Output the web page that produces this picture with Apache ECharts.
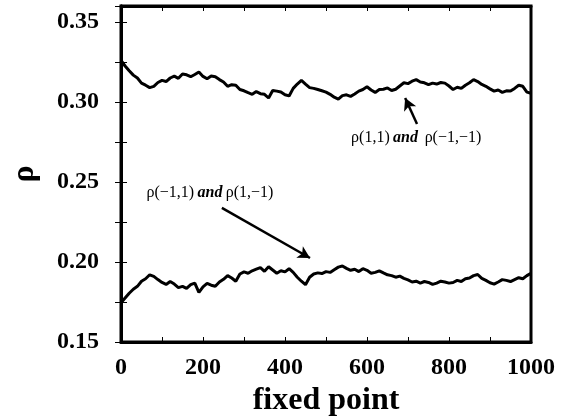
<!DOCTYPE html>
<html>
<head>
<meta charset="utf-8">
<script src="https://cdn.jsdelivr.net/npm/echarts@6/dist/echarts.min.js"></script>
<style>
  html, body { margin: 0; padding: 0; background: #fff; }
  #chart { width: 562px; height: 418px; }
</style>
</head>
<body>
<div id="chart"></div>
<script>
// fixed-point index, sampled every 10
const fixedPoints = [];
for (let i = 0; i <= 100; i++) fixedPoints.push(i * 10);

// rho(1,1) and rho(-1,-1)
const rhoSame = [
  0.3260, 0.3225, 0.3195, 0.3168, 0.3150, 0.3118, 0.3105, 0.3090, 0.3098, 0.3122,
  0.3135, 0.3128, 0.3150, 0.3162, 0.3148, 0.3175, 0.3170, 0.3158, 0.3172, 0.3188,
  0.3160, 0.3145, 0.3162, 0.3158, 0.3140, 0.3125, 0.3098, 0.3108, 0.3105, 0.3078,
  0.3070, 0.3058, 0.3048, 0.3065, 0.3052, 0.3048, 0.3025, 0.3072, 0.3068, 0.3062,
  0.3045, 0.3038, 0.3085, 0.3112, 0.3135, 0.3112, 0.3090, 0.3085, 0.3078, 0.3070,
  0.3062, 0.3048, 0.3030, 0.3018, 0.3040, 0.3045, 0.3035, 0.3050, 0.3068, 0.3078,
  0.3095, 0.3075, 0.3060, 0.3078, 0.3080, 0.3088, 0.3072, 0.3080, 0.3100, 0.3120,
  0.3115, 0.3130, 0.3140, 0.3125, 0.3120, 0.3108, 0.3118, 0.3112, 0.3122, 0.3118,
  0.3100, 0.3078, 0.3092, 0.3085, 0.3105, 0.3120, 0.3140, 0.3128, 0.3110, 0.3098,
  0.3082, 0.3068, 0.3075, 0.3060, 0.3070, 0.3068, 0.3085, 0.3105, 0.3098, 0.3062,
  0.3055
];

// rho(-1,1) and rho(1,-1)
const rhoMixed = [
  0.1745, 0.1775, 0.1805, 0.1830, 0.1848, 0.1880, 0.1895, 0.1920, 0.1910, 0.1890,
  0.1872, 0.1860, 0.1878, 0.1862, 0.1840, 0.1848, 0.1835, 0.1858, 0.1868, 0.1810,
  0.1845, 0.1866, 0.1855, 0.1848, 0.1875, 0.1892, 0.1915, 0.1900, 0.1880, 0.1925,
  0.1938, 0.1930, 0.1945, 0.1955, 0.1965, 0.1942, 0.1970, 0.1950, 0.1930, 0.1945,
  0.1938, 0.1958, 0.1935, 0.1905, 0.1880, 0.1858, 0.1905, 0.1925, 0.1932, 0.1928,
  0.1940, 0.1935, 0.1952, 0.1968, 0.1975, 0.1960, 0.1948, 0.1955, 0.1940, 0.1958,
  0.1948, 0.1930, 0.1935, 0.1945, 0.1932, 0.1920, 0.1915, 0.1905, 0.1912, 0.1898,
  0.1888, 0.1875, 0.1880, 0.1868, 0.1878, 0.1872, 0.1860, 0.1868, 0.1880, 0.1875,
  0.1868, 0.1872, 0.1885, 0.1878, 0.1895, 0.1900, 0.1915, 0.1922, 0.1898, 0.1885,
  0.1870, 0.1862, 0.1875, 0.1890, 0.1885, 0.1878, 0.1890, 0.1902, 0.1895, 0.1915,
  0.1930
];

const xTicks = [0, 200, 400, 600, 800, 1000];
const yTicks = [0.15, 0.20, 0.25, 0.30, 0.35];

const SERIF = '"Liberation Serif", "Times New Roman", serif';

const chart = echarts.init(document.getElementById('chart'), null, { renderer: 'canvas' });

function pairs(ys) {
  return fixedPoints.map((x, i) => [x, ys[i]]);
}

const tickLabelStyle = {
  fontFamily: SERIF, fontWeight: 'bold', fontSize: 24, color: '#000'
};

const annotRich = {
  r: { fontFamily: SERIF, fontSize: 16, color: '#000' },
  a: { fontFamily: SERIF, fontSize: 16, fontWeight: 'bold', fontStyle: 'italic', color: '#000' }
};

// invisible anchor used to place the annotation texts in data coordinates
const noMarker = { symbol: 'circle', symbolSize: 1, itemStyle: { color: 'rgba(0,0,0,0)' } };

const option = {
  animation: false,
  backgroundColor: '#fff',
  grid: {
    left: 121, right: 31, top: 6, bottom: 76,
    outerBoundsMode: 'none', containLabel: false,
    show: true, borderColor: '#000', borderWidth: 3, backgroundColor: 'transparent'
  },
  xAxis: [{
    type: 'value', min: 0, max: 1000, interval: 200,
    name: 'fixed point', nameLocation: 'middle', nameGap: 42,
    nameTextStyle: { fontFamily: SERIF, fontWeight: 'bold', fontSize: 32, color: '#000' },
    axisLine: { show: true, lineStyle: { color: '#000', width: 3 } },
    axisTick: { inside: true, length: 5, lineStyle: { color: '#000', width: 1 } },
    minorTick: { show: true, splitNumber: 2, length: 5, lineStyle: { color: '#000', width: 1 } },
    splitLine: { show: false },
    axisLabel: Object.assign({ margin: 14, formatter: v => xTicks.includes(v) ? String(v) : '' }, tickLabelStyle)
  }, {
    type: 'value', min: 0, max: 1000, interval: 200, position: 'top',
    axisLine: { show: true, lineStyle: { color: '#000', width: 3 } },
    axisTick: { inside: true, length: 5, lineStyle: { color: '#000', width: 1 } },
    minorTick: { show: true, splitNumber: 2, length: 5, lineStyle: { color: '#000', width: 1 } },
    splitLine: { show: false },
    axisLabel: { show: false }
  }],
  yAxis: [{
    type: 'value', min: 0.15, max: 0.36, interval: 0.05,
    name: 'ρ', nameLocation: 'middle', nameGap: 80, nameRotate: 90,
    nameTextStyle: { fontFamily: SERIF, fontWeight: 'bold', fontSize: 32, color: '#000' },
    axisLine: { show: true, lineStyle: { color: '#000', width: 3 } },
    axisTick: { inside: true, length: 6, lineStyle: { color: '#000', width: 1 } },
    minorTick: { show: true, splitNumber: 2, length: 6, lineStyle: { color: '#000', width: 1 } },
    splitLine: { show: false },
    axisLabel: Object.assign({
      margin: 22,
      formatter: v => yTicks.some(t => Math.abs(t - v) < 1e-9) ? v.toFixed(2) : ''
    }, tickLabelStyle)
  }, {
    type: 'value', min: 0.15, max: 0.36, interval: 0.05, position: 'right',
    axisLine: { show: true, lineStyle: { color: '#000', width: 3 } },
    axisTick: { inside: true, length: 6, lineStyle: { color: '#000', width: 1 } },
    minorTick: { show: true, splitNumber: 2, length: 6, lineStyle: { color: '#000', width: 1 } },
    splitLine: { show: false },
    axisLabel: { show: false }
  }],
  series: [{
    name: 'ρ(1,1) and ρ(−1,−1)',
    type: 'line',
    xAxisIndex: 0, yAxisIndex: 0,
    data: pairs(rhoSame),
    showSymbol: false,
    lineStyle: { color: '#000', width: 3 },
    markLine: {
      silent: true, symbol: ['none', 'arrow'], symbolSize: [10, 12],
      label: { show: false },
      lineStyle: { color: '#000', width: 2.5, type: 'solid' },
      data: [[{ coord: [722, 0.2863] }, { coord: [693, 0.3025] }]]
    },
    markPoint: Object.assign({
      silent: true,
      data: [{
        coord: [720, 0.2775],
        label: {
          show: true, position: 'inside',
          formatter: '{r|ρ(1,1)} {a|and}  {r|ρ(−1,−1)}',
          rich: annotRich
        }
      }]
    }, noMarker)
  }, {
    name: 'ρ(−1,1) and ρ(1,−1)',
    type: 'line',
    xAxisIndex: 0, yAxisIndex: 0,
    data: pairs(rhoMixed),
    showSymbol: false,
    lineStyle: { color: '#000', width: 3 },
    markLine: {
      silent: true, symbol: ['none', 'arrow'], symbolSize: [10, 12],
      label: { show: false },
      lineStyle: { color: '#000', width: 2.5, type: 'solid' },
      data: [[{ coord: [246, 0.2338] }, { coord: [461, 0.2025] }]]
    },
    markPoint: Object.assign({
      silent: true,
      data: [{
        coord: [217, 0.243],
        label: {
          show: true, position: 'inside',
          formatter: '{r|ρ(−1,1)} {a|and} {r|ρ(1,−1)}',
          rich: annotRich
        }
      }]
    }, noMarker)
  }]
};

chart.setOption(option);
</script>
</body>
</html>
